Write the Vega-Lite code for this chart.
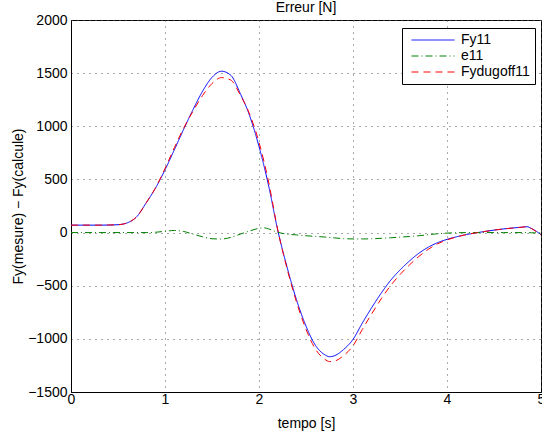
{
  "$schema": "https://vega.github.io/schema/vega-lite/v6.json",
  "autosize": {"type": "none"},
  "padding": {"left": 71, "top": 20, "right": 1, "bottom": 42},
  "width": 470,
  "height": 372,
  "background": "white",
  "title": {"text": "Erreur [N]", "fontSize": 14, "fontWeight": "normal", "font": "Liberation Sans", "color": "#000", "offset": -2},
  "config": {
    "view": {"stroke": "#000", "strokeWidth": 1},
    "font": "Liberation Sans",
    "axis": {
      "labelFont": "Liberation Sans", "labelFontSize": 14, "labelColor": "#000",
      "titleFont": "Liberation Sans", "titleFontSize": 14, "titleFontWeight": "normal", "titleColor": "#000",
      "domainColor": "#000", "ticks": false,
      "gridColor": "#555", "gridDash": [1, 5], "gridOpacity": 1, "gridWidth": 1,
      "labelBound": false, "labelOverlap": false, "labelFlush": false
    }
  },
  "data": {"values": [
    {"t": 0.0, "v": 70, "s": "Fy11"}, {"t": 0.1, "v": 70, "s": "Fy11"}, {"t": 0.2, "v": 70, "s": "Fy11"}, {"t": 0.3, "v": 70, "s": "Fy11"}, {"t": 0.4, "v": 71, "s": "Fy11"}, {"t": 0.5, "v": 74, "s": "Fy11"}, {"t": 0.6, "v": 92, "s": "Fy11"}, {"t": 0.7, "v": 150, "s": "Fy11"}, {"t": 0.8, "v": 280, "s": "Fy11"}, {"t": 0.9, "v": 420, "s": "Fy11"}, {"t": 1.0, "v": 590, "s": "Fy11"}, {"t": 1.1, "v": 780, "s": "Fy11"}, {"t": 1.2, "v": 975, "s": "Fy11"}, {"t": 1.3, "v": 1160, "s": "Fy11"}, {"t": 1.4, "v": 1330, "s": "Fy11"}, {"t": 1.5, "v": 1460, "s": "Fy11"}, {"t": 1.6, "v": 1518, "s": "Fy11"}, {"t": 1.7, "v": 1480, "s": "Fy11"}, {"t": 1.8, "v": 1310, "s": "Fy11"}, {"t": 1.9, "v": 1100, "s": "Fy11"}, {"t": 2.0, "v": 810, "s": "Fy11"}, {"t": 2.1, "v": 450, "s": "Fy11"}, {"t": 2.2, "v": 20, "s": "Fy11"}, {"t": 2.3, "v": -330, "s": "Fy11"}, {"t": 2.4, "v": -635, "s": "Fy11"}, {"t": 2.5, "v": -880, "s": "Fy11"}, {"t": 2.6, "v": -1060, "s": "Fy11"}, {"t": 2.7, "v": -1150, "s": "Fy11"}, {"t": 2.75, "v": -1168, "s": "Fy11"}, {"t": 2.8, "v": -1160, "s": "Fy11"}, {"t": 2.9, "v": -1100, "s": "Fy11"}, {"t": 3.0, "v": -1005, "s": "Fy11"}, {"t": 3.1, "v": -850, "s": "Fy11"}, {"t": 3.2, "v": -705, "s": "Fy11"}, {"t": 3.3, "v": -570, "s": "Fy11"}, {"t": 3.4, "v": -450, "s": "Fy11"}, {"t": 3.5, "v": -352, "s": "Fy11"}, {"t": 3.6, "v": -268, "s": "Fy11"}, {"t": 3.7, "v": -195, "s": "Fy11"}, {"t": 3.8, "v": -138, "s": "Fy11"}, {"t": 3.9, "v": -95, "s": "Fy11"}, {"t": 4.0, "v": -64, "s": "Fy11"}, {"t": 4.1, "v": -40, "s": "Fy11"}, {"t": 4.2, "v": -20, "s": "Fy11"}, {"t": 4.3, "v": -4, "s": "Fy11"}, {"t": 4.4, "v": 10, "s": "Fy11"}, {"t": 4.5, "v": 23, "s": "Fy11"}, {"t": 4.6, "v": 34, "s": "Fy11"}, {"t": 4.7, "v": 43, "s": "Fy11"}, {"t": 4.8, "v": 51, "s": "Fy11"}, {"t": 4.85, "v": 55, "s": "Fy11"}, {"t": 4.9, "v": 38, "s": "Fy11"}, {"t": 4.95, "v": 12, "s": "Fy11"}, {"t": 5.0, "v": -20, "s": "Fy11"},
    {"t": 0.0, "v": 0, "s": "e11"}, {"t": 0.4, "v": 0, "s": "e11"}, {"t": 0.8, "v": 0, "s": "e11"}, {"t": 0.9, "v": 3, "s": "e11"}, {"t": 1.0, "v": 12, "s": "e11"}, {"t": 1.1, "v": 20, "s": "e11"}, {"t": 1.2, "v": 10, "s": "e11"}, {"t": 1.3, "v": -15, "s": "e11"}, {"t": 1.4, "v": -40, "s": "e11"}, {"t": 1.5, "v": -58, "s": "e11"}, {"t": 1.6, "v": -61, "s": "e11"}, {"t": 1.7, "v": -45, "s": "e11"}, {"t": 1.8, "v": -15, "s": "e11"}, {"t": 1.9, "v": 15, "s": "e11"}, {"t": 2.0, "v": 40, "s": "e11"}, {"t": 2.05, "v": 45, "s": "e11"}, {"t": 2.1, "v": 35, "s": "e11"}, {"t": 2.2, "v": 3, "s": "e11"}, {"t": 2.3, "v": -15, "s": "e11"}, {"t": 2.4, "v": -22, "s": "e11"}, {"t": 2.5, "v": -30, "s": "e11"}, {"t": 2.6, "v": -36, "s": "e11"}, {"t": 2.7, "v": -42, "s": "e11"}, {"t": 2.8, "v": -50, "s": "e11"}, {"t": 2.9, "v": -57, "s": "e11"}, {"t": 3.0, "v": -60, "s": "e11"}, {"t": 3.1, "v": -60, "s": "e11"}, {"t": 3.2, "v": -58, "s": "e11"}, {"t": 3.3, "v": -54, "s": "e11"}, {"t": 3.4, "v": -49, "s": "e11"}, {"t": 3.5, "v": -43, "s": "e11"}, {"t": 3.6, "v": -37, "s": "e11"}, {"t": 3.7, "v": -30, "s": "e11"}, {"t": 3.8, "v": -20, "s": "e11"}, {"t": 3.9, "v": -11, "s": "e11"}, {"t": 4.0, "v": -5, "s": "e11"}, {"t": 4.1, "v": -2, "s": "e11"}, {"t": 4.2, "v": 0, "s": "e11"}, {"t": 4.6, "v": 0, "s": "e11"}, {"t": 4.85, "v": 0, "s": "e11"}, {"t": 4.9, "v": -2, "s": "e11"}, {"t": 5.0, "v": -3, "s": "e11"},
    {"t": 0.0, "v": 70, "s": "Fydugoff11"}, {"t": 0.1, "v": 70, "s": "Fydugoff11"}, {"t": 0.2, "v": 70, "s": "Fydugoff11"}, {"t": 0.3, "v": 70, "s": "Fydugoff11"}, {"t": 0.4, "v": 71, "s": "Fydugoff11"}, {"t": 0.5, "v": 74, "s": "Fydugoff11"}, {"t": 0.6, "v": 92, "s": "Fydugoff11"}, {"t": 0.7, "v": 150, "s": "Fydugoff11"}, {"t": 0.8, "v": 280, "s": "Fydugoff11"}, {"t": 0.9, "v": 423, "s": "Fydugoff11"}, {"t": 1.0, "v": 602, "s": "Fydugoff11"}, {"t": 1.1, "v": 800, "s": "Fydugoff11"}, {"t": 1.2, "v": 985, "s": "Fydugoff11"}, {"t": 1.3, "v": 1145, "s": "Fydugoff11"}, {"t": 1.4, "v": 1290, "s": "Fydugoff11"}, {"t": 1.5, "v": 1402, "s": "Fydugoff11"}, {"t": 1.6, "v": 1458, "s": "Fydugoff11"}, {"t": 1.7, "v": 1435, "s": "Fydugoff11"}, {"t": 1.8, "v": 1295, "s": "Fydugoff11"}, {"t": 1.9, "v": 1115, "s": "Fydugoff11"}, {"t": 2.0, "v": 850, "s": "Fydugoff11"}, {"t": 2.1, "v": 485, "s": "Fydugoff11"}, {"t": 2.2, "v": 23, "s": "Fydugoff11"}, {"t": 2.3, "v": -345, "s": "Fydugoff11"}, {"t": 2.4, "v": -657, "s": "Fydugoff11"}, {"t": 2.5, "v": -910, "s": "Fydugoff11"}, {"t": 2.6, "v": -1096, "s": "Fydugoff11"}, {"t": 2.7, "v": -1192, "s": "Fydugoff11"}, {"t": 2.75, "v": -1214, "s": "Fydugoff11"}, {"t": 2.8, "v": -1210, "s": "Fydugoff11"}, {"t": 2.9, "v": -1157, "s": "Fydugoff11"}, {"t": 3.0, "v": -1065, "s": "Fydugoff11"}, {"t": 3.1, "v": -910, "s": "Fydugoff11"}, {"t": 3.2, "v": -763, "s": "Fydugoff11"}, {"t": 3.3, "v": -624, "s": "Fydugoff11"}, {"t": 3.4, "v": -499, "s": "Fydugoff11"}, {"t": 3.5, "v": -395, "s": "Fydugoff11"}, {"t": 3.6, "v": -305, "s": "Fydugoff11"}, {"t": 3.7, "v": -225, "s": "Fydugoff11"}, {"t": 3.8, "v": -158, "s": "Fydugoff11"}, {"t": 3.9, "v": -106, "s": "Fydugoff11"}, {"t": 4.0, "v": -69, "s": "Fydugoff11"}, {"t": 4.1, "v": -42, "s": "Fydugoff11"}, {"t": 4.2, "v": -20, "s": "Fydugoff11"}, {"t": 4.3, "v": -4, "s": "Fydugoff11"}, {"t": 4.4, "v": 10, "s": "Fydugoff11"}, {"t": 4.5, "v": 23, "s": "Fydugoff11"}, {"t": 4.6, "v": 34, "s": "Fydugoff11"}, {"t": 4.7, "v": 43, "s": "Fydugoff11"}, {"t": 4.8, "v": 51, "s": "Fydugoff11"}, {"t": 4.85, "v": 55, "s": "Fydugoff11"}, {"t": 4.9, "v": 36, "s": "Fydugoff11"}, {"t": 4.95, "v": 9, "s": "Fydugoff11"}, {"t": 5.0, "v": -23, "s": "Fydugoff11"}
  ]},
  "mark": {"type": "line", "strokeWidth": 1, "interpolate": "monotone", "clip": true},
  "encoding": {
    "x": {"field": "t", "type": "quantitative", "title": "tempo [s]",
      "scale": {"domain": [0, 5], "nice": false, "zero": false},
      "axis": {"values": [0, 1, 2, 3, 4, 5], "labelPadding": 0, "titlePadding": 10, "format": "d"}},
    "y": {"field": "v", "type": "quantitative", "title": "Fy(mesure) − Fy(calcule)",
      "scale": {"domain": [-1500, 2000], "nice": false, "zero": false},
      "axis": {"values": [-1500, -1000, -500, 0, 500, 1000, 1500, 2000], "labelPadding": 4, "titlePadding": 2, "format": "d"}},
    "color": {"field": "s", "type": "nominal",
      "scale": {"domain": ["Fy11", "e11", "Fydugoff11"], "range": ["#0000ff", "#008000", "#ff0000"]},
      "legend": {"title": null, "orient": "none", "legendX": 331, "legendY": 8,
        "strokeColor": "#000", "fillColor": "#fff", "padding": 5,
        "symbolType": "M-4.3,0H4.3", "symbolSize": 100, "symbolStrokeWidth": 1, "symbolFillColor": "transparent",
        "symbolOffset": 19, "labelOffset": 21,
        "labelFont": "Liberation Sans", "labelFontSize": 14, "labelColor": "#000", "rowPadding": 2}},
    "strokeDash": {"field": "s", "type": "nominal",
      "scale": {"domain": ["Fy11", "e11", "Fydugoff11"], "range": [[1, 0], [7, 3, 1, 3], [7, 5]]}}
  }
}
